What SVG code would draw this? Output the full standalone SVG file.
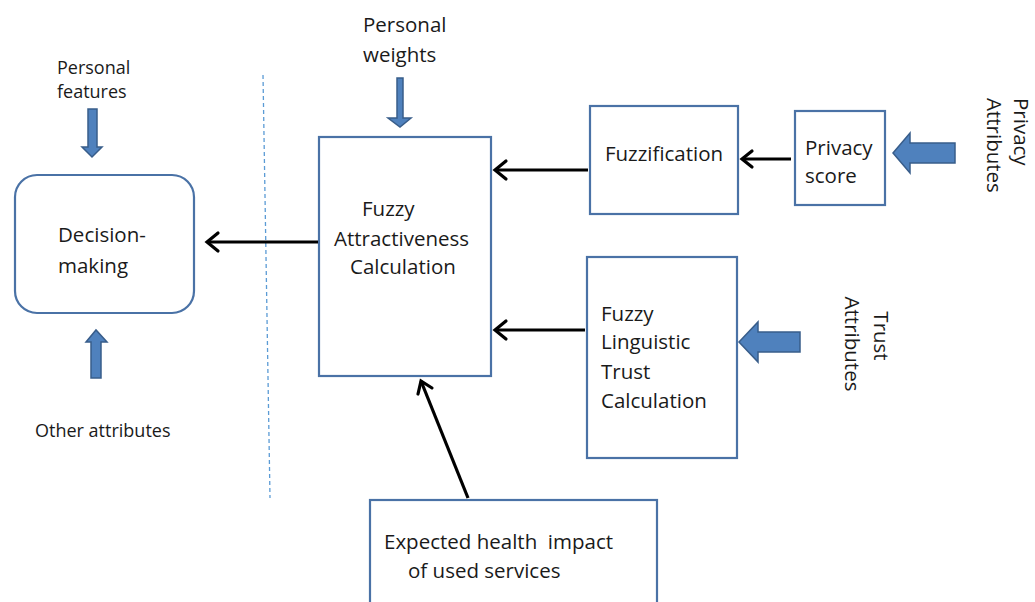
<svg xmlns="http://www.w3.org/2000/svg" width="1035" height="602" viewBox="0 0 1035 602">
<defs>
<style>
.box{fill:#fff;stroke:#4a72a6;stroke-width:2.2}
.t{font-family:"Open Sans","Noto Sans","Liberation Sans",sans-serif;fill:#1a1a1a}
.big{font-size:20.5px}
.sm{font-size:18px}
.rot{font-size:20.5px}
.blk{fill:#4f81bd;stroke:#385d8a;stroke-width:1.5}
.con{stroke:#000;stroke-width:3.2;fill:none}
.head{stroke:#000;stroke-width:3.2;fill:none;stroke-linecap:round;stroke-linejoin:miter}
</style>
</defs>
<rect width="1035" height="602" fill="#fff"/>

<line x1="263" y1="75" x2="270" y2="498" stroke="#5b9bd5" stroke-width="1.3" stroke-dasharray="4,3"/>

<g id="decision">
<rect class="box" x="15" y="175" width="179" height="138" rx="22"/>
<text class="t big" x="58" y="242">Decision-</text>
<text class="t big" x="58" y="273">making</text>
</g>

<g id="personal-features">
<text class="t sm" x="57" y="74">Personal</text>
<text class="t sm" x="57" y="98">features</text>
<path class="blk" d="M88,109 H97 V147 H102 L92,157 L82,147 H88 Z"/>
</g>

<g id="other-attributes">
<path class="blk" d="M91,378 V342 H86 L96,330 L107,342 H101 V378 Z"/>
<text class="t sm" x="35" y="437">Other attributes</text>
</g>

<g id="attractiveness">
<rect class="box" x="319" y="137" width="172" height="239"/>
<text class="t big" x="362" y="216">Fuzzy</text>
<text class="t big" x="334" y="246">Attractiveness</text>
<text class="t big" x="350" y="274">Calculation</text>
</g>

<g id="personal-weights">
<text class="t big" x="363" y="32">Personal</text>
<text class="t big" x="363" y="62">weights</text>
<path class="blk" d="M397,78 H403 V118 H411 L400,127 L388,118 H397 Z"/>
</g>

<g id="fuzzification">
<rect class="box" x="590" y="106" width="148" height="108"/>
<text class="t big" x="664" y="161" text-anchor="middle">Fuzzification</text>
</g>

<g id="privacy-score">
<rect class="box" x="795" y="111" width="90" height="94"/>
<text class="t big" x="805" y="155">Privacy</text>
<text class="t big" x="805" y="183">score</text>
</g>

<g id="privacy-attributes">
<path class="blk" d="M893,153 L910,133 V143 H955 V163 H910 V173 Z"/>
<text class="t rot" transform="translate(1014,98) rotate(90)">Privacy</text>
<text class="t rot" transform="translate(987,98) rotate(90)">Attributes</text>
</g>

<g id="trust-calc">
<rect class="box" x="587" y="257" width="150" height="201"/>
<text class="t big" x="601" y="321">Fuzzy</text>
<text class="t big" x="601" y="349">Linguistic</text>
<text class="t big" x="601" y="379">Trust</text>
<text class="t big" x="601" y="408">Calculation</text>
</g>

<g id="trust-attributes">
<path class="blk" d="M739,342 L758,322 V332 H800 V352 H758 V362 Z"/>
<text class="t rot" text-anchor="middle" transform="translate(874,336) rotate(90)">Trust</text>
<text class="t rot" text-anchor="middle" transform="translate(845,344) rotate(90)">Attributes</text>
</g>

<g id="health-impact">
<rect class="box" x="370" y="500" width="287" height="110"/>
<text class="t big" x="384" y="549" xml:space="preserve">Expected health  impact</text>
<text class="t big" x="408" y="578">of used services</text>
</g>

<g id="connectors">
<line class="con" x1="318" y1="242" x2="207" y2="242"/>
<polyline class="head" points="218,233 207,242 218,251"/>
<line class="con" x1="588" y1="170" x2="495" y2="170"/>
<polyline class="head" points="506,161 495,170 506,179"/>
<line class="con" x1="585" y1="330" x2="495" y2="330"/>
<polyline class="head" points="506,321 495,330 506,339"/>
<line class="con" x1="791" y1="159" x2="742" y2="159"/>
<polyline class="head" points="752,151 742,159 752,167"/>
<line class="con" x1="468" y1="498" x2="421" y2="381"/>
<polyline class="head" points="418,394 421,381 432,388"/>
</g>
</svg>
